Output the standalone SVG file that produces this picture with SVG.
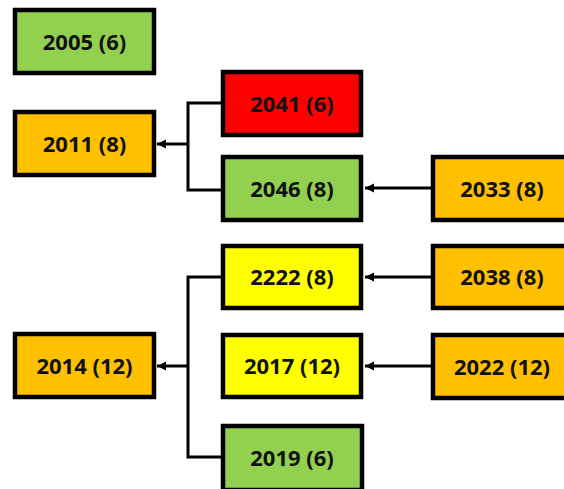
<svg xmlns="http://www.w3.org/2000/svg" width="564" height="489" viewBox="0 0 564 489">
  <style>
    .box { stroke: #000; stroke-width: 4.5; }
    .green { fill: #92D050; }
    .orange { fill: #FFC000; }
    .red { fill: #FF0000; }
    .yellow { fill: #FFFF00; }
    .label { font-family: "Open Sans", "Liberation Sans", sans-serif; font-weight: bold; font-size: 22px; fill: #111; text-anchor: middle; }
    .wire { fill: none; stroke: #000; stroke-width: 3; }
  </style>
  <defs>
    <marker id="arrow" markerUnits="userSpaceOnUse" markerWidth="10" markerHeight="10" refX="9" refY="5" orient="auto">
      <path d="M0,0.5 L9,5 L0,9.5 z" fill="#000"/>
    </marker>
  </defs>
  <rect width="564" height="489" fill="#fff"/>

  <g id="connectors">
    <path class="wire" d="M221,103 H188 V190 H221"/>
    <line class="wire" x1="188" y1="144" x2="157" y2="144" marker-end="url(#arrow)"/>
    <line class="wire" x1="431" y1="188" x2="365" y2="188" marker-end="url(#arrow)"/>
    <path class="wire" d="M221,277 H188 V457 H221"/>
    <line class="wire" x1="188" y1="366" x2="157" y2="366" marker-end="url(#arrow)"/>
    <line class="wire" x1="431" y1="277" x2="365" y2="277" marker-end="url(#arrow)"/>
    <line class="wire" x1="431" y1="366" x2="365" y2="366" marker-end="url(#arrow)"/>
  </g>

  <g id="n2005"><rect class="box green" x="15" y="10" width="139" height="63"/><text class="label" x="84.5" y="49.5">2005 (6)</text></g>
  <g id="n2011"><rect class="box orange" x="15" y="112" width="139" height="63"/><text class="label" x="84.5" y="151.5">2011 (8)</text></g>
  <g id="n2041"><rect class="box red" x="223" y="72" width="138" height="63"/><text class="label" x="292" y="111.5">2041 (6)</text></g>
  <g id="n2046"><rect class="box green" x="223" y="157" width="138" height="63"/><text class="label" x="292" y="196.5">2046 (8)</text></g>
  <g id="n2033"><rect class="box orange" x="433" y="157" width="139" height="63"/><text class="label" x="502" y="196.5">2033 (8)</text></g>
  <g id="n2222"><rect class="box yellow" x="223" y="246" width="138" height="62"/><text class="label" x="292" y="285">2222 (8)</text></g>
  <g id="n2038"><rect class="box orange" x="433" y="246" width="139" height="62"/><text class="label" x="502" y="285">2038 (8)</text></g>
  <g id="n2014"><rect class="box orange" x="15" y="334" width="139" height="63"/><text class="label" x="84.5" y="373.5">2014 (12)</text></g>
  <g id="n2017"><rect class="box yellow" x="223" y="335" width="138" height="62"/><text class="label" x="292" y="374">2017 (12)</text></g>
  <g id="n2022"><rect class="box orange" x="433" y="335" width="139" height="63"/><text class="label" x="502" y="374.5">2022 (12)</text></g>
  <g id="n2019"><rect class="box green" x="223" y="426" width="139" height="64"/><text class="label" x="292" y="466">2019 (6)</text></g>
</svg>
